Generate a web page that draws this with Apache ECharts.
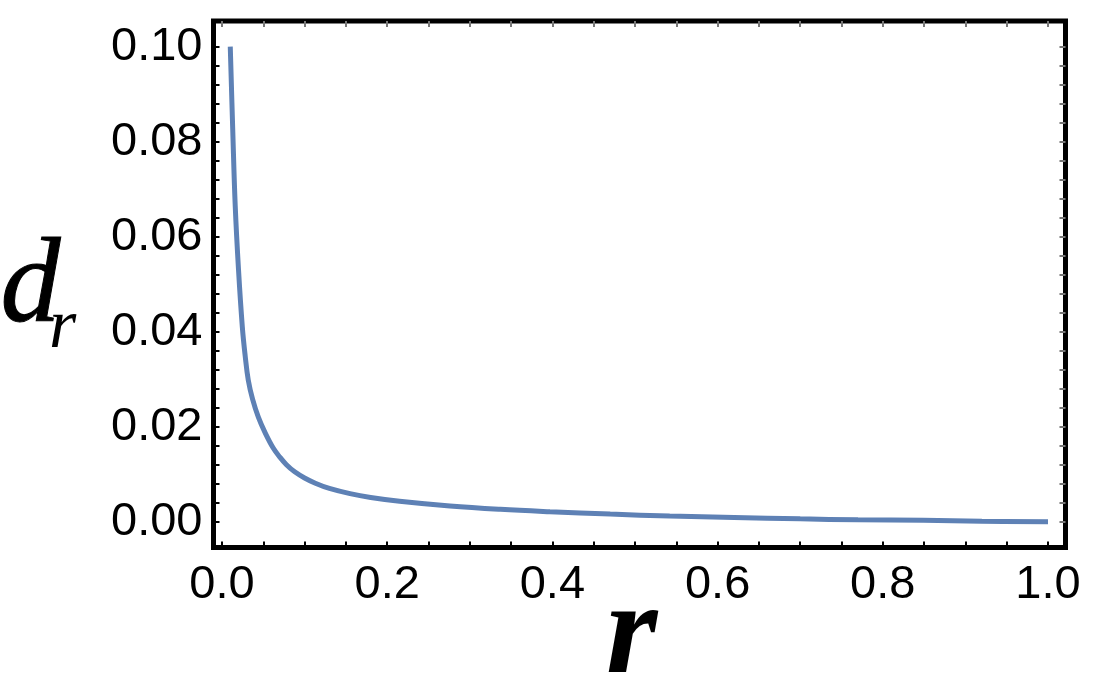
<!DOCTYPE html>
<html>
<head>
<meta charset="utf-8">
<script src="https://cdn.jsdelivr.net/npm/echarts@6/dist/echarts.min.js"></script>
<style>html,body{margin:0;padding:0;background:#fff}#c{width:1100px;height:685px}</style>
</head>
<body>
<div id="c"></div>
<script>
// Data
const rValues = [0.0100, 0.0130, 0.0160, 0.0200, 0.0246, 0.0280, 0.0318, 0.0370, 0.0440, 0.0520, 0.0620, 0.0700, 0.0780, 0.0880, 0.1000, 0.1130, 0.1300, 0.1550, 0.1800, 0.2150, 0.2760, 0.3370, 0.3970, 0.4700, 0.5420, 0.6200, 0.7000, 0.7700, 0.8490, 0.9200, 1.0000];
const dValues = [0.1000, 0.0825, 0.0665, 0.0530, 0.0410, 0.0350, 0.0298, 0.0258, 0.0220, 0.0188, 0.0155, 0.0136, 0.0120, 0.0105, 0.0092, 0.0081, 0.0070, 0.0059, 0.0051, 0.0043, 0.0033, 0.0026, 0.0021, 0.0016, 0.0012, 0.0009, 0.0006, 0.0004, 0.0003, 0.0001, 0.0000];
const xTicks = [0, 0.05, 0.1, 0.15, 0.2, 0.25, 0.3, 0.35, 0.4, 0.45, 0.5, 0.55, 0.6, 0.65, 0.7, 0.75, 0.8, 0.85, 0.9, 0.95, 1.0];
const yTicks = [0, 0.004, 0.008, 0.012, 0.016, 0.02, 0.024, 0.028, 0.032, 0.036, 0.04, 0.044, 0.048, 0.052, 0.056, 0.06, 0.064, 0.068, 0.072, 0.076, 0.08, 0.084, 0.088, 0.092, 0.096, 0.10];
const xLabelValues = [0, 0.2, 0.4, 0.6, 0.8, 1.0];
const yLabelValues = [0, 0.02, 0.04, 0.06, 0.08, 0.10];
const xLabelText = ['0.0', '0.2', '0.4', '0.6', '0.8', '1.0'];
const yLabelText = ['0.00', '0.02', '0.04', '0.06', '0.08', '0.10'];

const X_MIN = -0.0103, X_MAX = 1.0212;
const Y_MIN = -0.00543, Y_MAX = 0.10541;

const chart = echarts.init(document.getElementById('c'), null, {renderer: 'canvas'});

const labelFont = {fontFamily: 'Liberation Sans, Arial, sans-serif', fontSize: 47, color: '#000'};

function xAx(pos, color, labels) {
  return {
    type: 'value', position: pos, min: X_MIN, max: X_MAX,
    axisLine: {show: false, onZero: false}, splitLine: {show: false},
    axisTick: {show: true, inside: true, length: 6, customValues: xTicks, lineStyle: {color: color, width: 2}},
    axisLabel: labels ? Object.assign({
      show: true, customValues: xLabelValues, margin: 14,
      formatter: v => xLabelText[xLabelValues.findIndex(t => Math.abs(t - v) < 1e-9)]
    }, labelFont) : {show: false}
  };
}
function yAx(pos, color, labels) {
  return {
    type: 'value', position: pos, min: Y_MIN, max: Y_MAX,
    axisLine: {show: false, onZero: false}, splitLine: {show: false},
    axisTick: {show: true, inside: true, length: 6, customValues: yTicks, lineStyle: {color: color, width: 2}},
    axisLabel: labels ? Object.assign({
      show: true, customValues: yLabelValues, margin: 11,
      formatter: v => yLabelText[yLabelValues.findIndex(t => Math.abs(t - v) < 1e-9)]
    }, labelFont) : {show: false}
  };
}

chart.setOption({
  animation: false,
  backgroundColor: '#fff',
  grid: {left: 213.5, top: 21, width: 852, height: 526.5, show: true, borderColor: '#000', borderWidth: 5, backgroundColor: 'transparent'},
  xAxis: [xAx('bottom', '#000', true), xAx('top', '#777', false)],
  yAxis: [yAx('left', '#000', true), yAx('right', '#777', false)],
  series: [{
    type: 'line', xAxisIndex: 0, yAxisIndex: 0,
    data: rValues.map((r, i) => [r, dValues[i]]),
    showSymbol: false, smooth: 0.4,
    lineStyle: {color: '#5E81B5', width: 5, cap: 'butt'},
    clip: true
  }],
  graphic: [
    {type: 'text', left: 0, top: 229, style: {text: 'd', font: 'italic 120px "Liberation Serif", "Times New Roman", serif', fill: '#000', stroke: '#000', lineWidth: 1}},
    {type: 'text', left: 49, top: 294, style: {text: 'r', font: 'italic 70px "Liberation Serif", "Times New Roman", serif', fill: '#000'}},
    {type: 'text', left: 606, top: 572, style: {text: 'r', font: 'italic bold 132px "Liberation Serif", "Times New Roman", serif', fill: '#000'}}
  ]
});
</script>
</body>
</html>
